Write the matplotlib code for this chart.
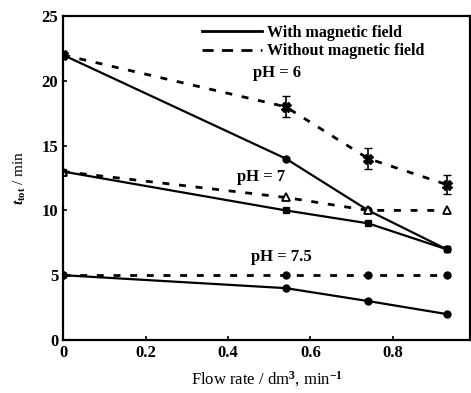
import matplotlib
matplotlib.use('Agg')
import matplotlib.pyplot as plt
from matplotlib.lines import Line2D

# flow rate (dm3/min)
flow = [0, 0.54, 0.74, 0.93]

# t_tot / min, with and without magnetic field
ph6_with = [22, 14, 10, 7]
ph6_without = [22, 18, 14, 12]
ph6_err = [0, 0.8, 0.8, 0.7]
ph7_with = [13, 10, 9, 7]
ph7_without = [13, 11, 10, 10]
ph75_with = [5, 4, 3, 2]
ph75_without = [5, 5, 5, 5]

xticks = [0, 0.2, 0.4, 0.6, 0.8]
xticklabels = ['0', '0.2', '0.4', '0.6', '0.8']
yticks = [0, 5, 10, 15, 20, 25]

plt.rcParams['font.family'] = ['Liberation Serif', 'DejaVu Serif']
plt.rcParams['font.weight'] = 'bold'
plt.rcParams['mathtext.fontset'] = 'custom'
plt.rcParams['mathtext.rm'] = 'Liberation Serif:bold'
plt.rcParams['mathtext.it'] = 'Liberation Serif:italic:bold'

fig = plt.figure(figsize=(4.71, 3.93), dpi=100)
ax = fig.add_axes([0.134, 0.135, 0.864, 0.824])

k = 'black'
dash = (2.5, 3.5)
lw = 1.6

# solid: with magnetic field
ax.plot(flow, ph6_with, color=k, lw=lw, marker='o', ms=5)
ax.plot(flow, ph7_with, color=k, lw=lw, marker='s', ms=5)
ax.plot(flow, ph75_with, color=k, lw=lw, marker='o', ms=5)

# dashed: without magnetic field
ax.errorbar(flow, ph6_without, yerr=ph6_err, color=k, lw=2, dashes=dash,
            marker='X', ms=7, capsize=3, elinewidth=1.2)
ax.plot(flow, ph7_without, color=k, lw=2, dashes=dash, marker='^', ms=6,
        mfc='white', mew=1.3)
ax.plot(flow, ph75_without, color=k, lw=2, dashes=dash, marker='o', ms=5)

ax.text(0.52, 20.6, 'pH = 6', ha='center', va='center', fontsize=12)
ax.text(0.48, 12.6, 'pH = 7', ha='center', va='center', fontsize=12)
ax.text(0.53, 6.4, 'pH = 7.5', ha='center', va='center', fontsize=12)

ax.set_xlim(0, 0.987)
ax.set_ylim(0, 25)
ax.set_xticks(xticks)
ax.set_xticklabels(xticklabels)
ax.set_yticks(yticks)
ax.tick_params(direction='in', length=3, width=1.2, labelsize=12)
for s in ax.spines.values():
    s.set_linewidth(1.6)

ax.set_xlabel('Flow rate / dm$^3$, min$^{-1}$', fontsize=12, labelpad=6)
ax.set_ylabel('$t_\\mathrm{tot}$ / min', fontsize=11, labelpad=10)

handles = [Line2D([], [], color=k, lw=2),
           Line2D([], [], color=k, lw=2, dashes=(4, 3))]
ax.legend(handles, ['With magnetic field', 'Without magnetic field'],
          loc='upper right', bbox_to_anchor=(0.91, 1.0), frameon=False,
          fontsize=11.5, handlelength=3.8, borderaxespad=0.15,
          labelspacing=0.15, handletextpad=0.3)

fig.savefig('out.png', dpi=100)
